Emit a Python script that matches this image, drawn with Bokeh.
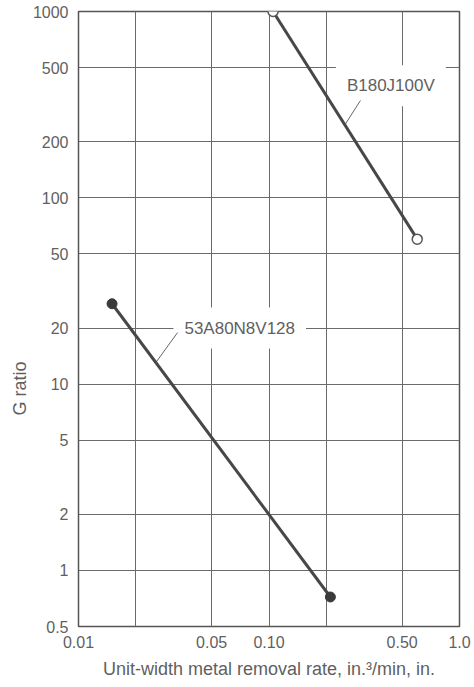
from bokeh.plotting import figure
from bokeh.models import Range1d, FixedTicker, Title
from bokeh.core.properties import value
from bokeh.embed import file_html
from bokeh.resources import INLINE

# ---- data ----
x_ticks = [0.01, 0.02, 0.05, 0.1, 0.2, 0.5, 1.0]
x_tick_labels = ["0.01", "", "0.05", "0.10", "", "0.50", "1.0"]
y_ticks = [0.5, 1, 2, 5, 10, 20, 50, 100, 200, 500, 1000]
y_tick_labels = ["0.5", "1", "2", "5", "10", "20", "50", "100", "200", "500", "1000"]

b180_name = "B180J100V"
b180_x = [0.105, 0.6]
b180_y = [1000, 60]

a53_name = "53A80N8V128"
a53_x = [0.015, 0.21]
a53_y = [27, 0.72]

# label anchors (data coords, left edge of the white box) and leader lines
b180_label_xy = (0.2245, 400)
b180_leader_x = [0.302, 0.25]
b180_leader_y = [333, 246]
a53_label_xy = (0.0315, 20)
a53_leader_x = [0.0331, 0.02567]
a53_leader_y = [18.9, 13.2]

x_label = "Unit-width metal removal rate, in.\u00b3/min, in."
y_label = "G ratio"

FONT = "Liberation Sans"
TEXT_COLOR = "#5f5f5f"
LINE_COLOR = "#474747"
GRID_COLOR = "#6a6a6a"

p = figure(width=474, height=687, x_axis_type="log", y_axis_type="log",
           output_backend="svg", toolbar_location=None,
           x_range=Range1d(0.01, 1.0), y_range=Range1d(0.5, 1000),
           min_border_left=78, min_border_right=15, min_border_top=11,
           min_border_bottom=61)

p.outline_line_color = "#555555"
p.outline_line_width = 1.5
p.background_fill_color = "white"
p.border_fill_color = "white"

# axes
for ax in (p.xaxis[0], p.yaxis[0]):
    ax.axis_line_color = None
    ax.major_tick_line_color = None
    ax.minor_tick_line_color = None
    ax.major_label_text_font = FONT
    ax.major_label_text_font_size = "16px"
    ax.major_label_text_color = TEXT_COLOR
p.xaxis.major_label_standoff = 3
p.yaxis.major_label_standoff = 4

p.xaxis.ticker = FixedTicker(ticks=x_ticks, minor_ticks=[])
p.yaxis.ticker = FixedTicker(ticks=y_ticks, minor_ticks=[])
p.xaxis.major_label_overrides = {t: l for t, l in zip(x_ticks, x_tick_labels)}
p.yaxis.major_label_overrides = {t: l for t, l in zip(y_ticks, y_tick_labels)}

p.xaxis.axis_label = x_label
p.xaxis.axis_label_text_font = FONT
p.xaxis.axis_label_text_font_size = "18px"
p.xaxis.axis_label_text_font_style = "normal"
p.xaxis.axis_label_text_color = TEXT_COLOR
p.xaxis.axis_label_standoff = 8

# y label as a left-side title, shifted down like the reference
p.add_layout(Title(text=y_label, align="left", offset=211, standoff=0,
                   text_font=FONT, text_font_size="18px",
                   text_font_style="normal", text_color=TEXT_COLOR), "left")

# grid
p.xgrid.ticker = FixedTicker(ticks=x_ticks, minor_ticks=[])
p.ygrid.ticker = FixedTicker(ticks=y_ticks, minor_ticks=[])
for g in (p.xgrid[0], p.ygrid[0]):
    g.grid_line_color = GRID_COLOR
    g.grid_line_width = 1
    g.grid_line_alpha = 1.0

# labels with white background (drawn under the lines)
for name, (lx, ly) in ((b180_name, b180_label_xy), (a53_name, a53_label_xy)):
    p.text(x=[lx], y=[ly], text=[name], text_font=value(FONT),
           text_font_size="17px", text_color=TEXT_COLOR,
           text_align="left", text_baseline="middle",
           background_fill_color="white", padding=11)

# leader lines
p.line(b180_leader_x, b180_leader_y, line_color="#666666", line_width=1)
p.line(a53_leader_x, a53_leader_y, line_color="#666666", line_width=1)

# data lines
p.line(b180_x, b180_y, line_color=LINE_COLOR, line_width=3)
p.line(a53_x, a53_y, line_color=LINE_COLOR, line_width=3)

p.scatter(b180_x, b180_y, size=10, marker="circle", fill_color="white",
          line_color="#555555", line_width=1.5)
p.scatter(a53_x, a53_y, size=10, marker="circle", fill_color="#3a3a3a",
          line_color="#3a3a3a", line_width=1)

open("out.html", "w").write(file_html(p, INLINE))
